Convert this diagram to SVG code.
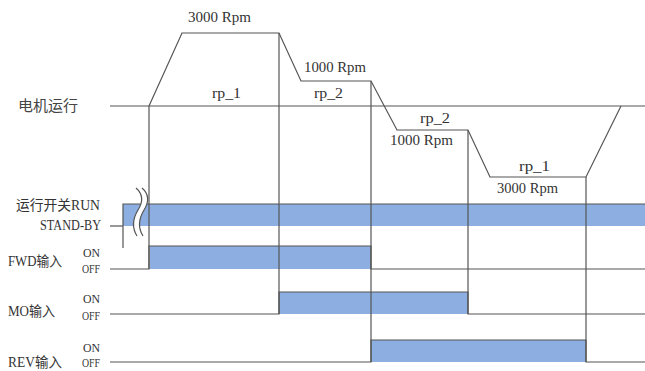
<svg xmlns="http://www.w3.org/2000/svg" width="645" height="371" viewBox="0 0 645 371">
<style>
.ln{fill:none;stroke:#555;stroke-width:1.2}
.bar{fill:#8caee0;stroke:none}
.t{font-family:"Liberation Serif","Noto Sans CJK SC",serif;font-size:15px;fill:#333}
.cj{font-family:"Noto Sans CJK SC","Liberation Sans",sans-serif;font-size:15px;fill:#444}
.lb{font-family:"Liberation Serif","Noto Sans CJK SC",serif;font-size:14px;fill:#333}
.oo{font-family:"Liberation Serif",serif;font-size:13px;fill:#333}
</style>
<rect width="645" height="371" fill="#fff"/>
<g id="bars">
<rect class="bar" x="123" y="204" width="522" height="22"/>
<rect class="bar" x="150" y="246" width="221" height="23"/>
<rect class="bar" x="279" y="292" width="189" height="22"/>
<rect class="bar" x="371" y="340" width="215" height="22"/>
</g>
<g id="connectors">
<line class="ln" x1="110" y1="106" x2="645" y2="106"/>
<polyline class="ln" points="149,106 182,33 279,33 301,81 371,81 397,130 468,130 490,177 586,177 621,106"/>
<line class="ln" x1="149" y1="106" x2="149" y2="269"/>
<line class="ln" x1="279" y1="33" x2="279" y2="314"/>
<line class="ln" x1="371" y1="81" x2="371" y2="362"/>
<line class="ln" x1="468" y1="130" x2="468" y2="314"/>
<line class="ln" x1="586" y1="177" x2="586" y2="362"/>
<polyline class="ln" points="110,226 123,226"/>
<polyline class="ln" points="123,248 123,204 645,204"/>
<polyline class="ln" points="110,269 149,269 149,246 371,246 371,269 645,269"/>
<polyline class="ln" points="110,314 279,314 279,292 468,292 468,314 645,314"/>
<polyline class="ln" points="110,362 371,362 371,340 586,340 586,362 645,362"/>
</g>
<g id="break">
<path d="M136,188 C143,194 143,202 138,210 C132,220 132,228 137,236 L143,236 C138,228 138,220 144,210 C149,202 149,194 142,188 Z" fill="#fff" stroke="none"/>
<path d="M136,188 C143,194 143,202 138,210 C132,220 132,228 137,236" class="ln"/>
<path d="M142,188 C149,194 149,202 144,210 C138,220 138,228 143,236" class="ln"/>
</g>
<g id="motor-labels">
<text class="t" x="188" y="22" textLength="63" lengthAdjust="spacingAndGlyphs">3000 Rpm</text>
<text class="t" x="304" y="72" textLength="62" lengthAdjust="spacingAndGlyphs">1000 Rpm</text>
<text class="t" x="212" y="98" textLength="29" lengthAdjust="spacingAndGlyphs">rp_1</text>
<text class="t" x="314" y="98" textLength="29" lengthAdjust="spacingAndGlyphs">rp_2</text>
<text class="t" x="420" y="123" textLength="30" lengthAdjust="spacingAndGlyphs">rp_2</text>
<text class="t" x="390" y="145" textLength="63" lengthAdjust="spacingAndGlyphs">1000 Rpm</text>
<text class="t" x="519" y="171" textLength="31" lengthAdjust="spacingAndGlyphs">rp_1</text>
<text class="t" x="497" y="193" textLength="61" lengthAdjust="spacingAndGlyphs">3000 Rpm</text>
</g>
<g id="label-motor"><text class="cj" x="18" y="111" textLength="60">电机运行</text></g>
<g id="label-run">
<text class="lb" x="16" y="210" textLength="84" lengthAdjust="spacingAndGlyphs">运行开关RUN</text>
<text class="lb" x="40" y="230" textLength="61" lengthAdjust="spacingAndGlyphs">STAND-BY</text>
</g>
<g id="label-fwd">
<text class="lb" x="8" y="266" textLength="54" lengthAdjust="spacingAndGlyphs">FWD输入</text>
<text class="oo" x="83" y="257" textLength="17" lengthAdjust="spacingAndGlyphs">ON</text>
<text class="oo" x="82" y="273" textLength="18" lengthAdjust="spacingAndGlyphs">OFF</text>
</g>
<g id="label-mo">
<text class="lb" x="8" y="316" textLength="47" lengthAdjust="spacingAndGlyphs">MO输入</text>
<text class="oo" x="83" y="303" textLength="17" lengthAdjust="spacingAndGlyphs">ON</text>
<text class="oo" x="82" y="320" textLength="18" lengthAdjust="spacingAndGlyphs">OFF</text>
</g>
<g id="label-rev">
<text class="lb" x="8" y="367" textLength="54" lengthAdjust="spacingAndGlyphs">REV输入</text>
<text class="oo" x="83" y="352" textLength="17" lengthAdjust="spacingAndGlyphs">ON</text>
<text class="oo" x="82" y="367" textLength="18" lengthAdjust="spacingAndGlyphs">OFF</text>
</g>
</svg>
